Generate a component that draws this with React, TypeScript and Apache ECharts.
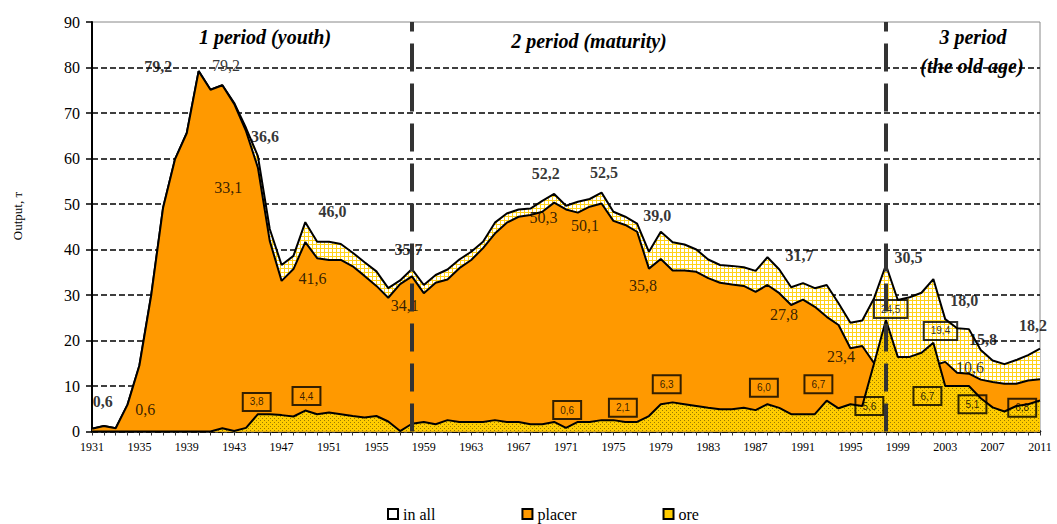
import React, { useEffect, useRef } from 'react';
import * as echarts from 'echarts';

const years: string[] = Array.from({ length: 81 }, (_, i) => String(1931 + i));

const inAll = [
  0.6, 1.2, 0.7, 5.9, 14.5, 30.0, 49.2, 59.8, 65.6, 79.2,
  75.1, 76.1, 72.2, 66.7, 60.5, 44.5, 36.6, 38.6, 46.0, 41.7,
  41.7, 41.2, 39.3, 37.2, 35.2, 31.5, 33.2, 35.7, 32.2, 34.4,
  35.6, 37.8, 39.5, 41.7, 45.9, 47.9, 48.8, 49.0, 50.7, 52.2,
  49.6, 50.5, 51.1, 52.5, 48.3, 47.2, 45.7, 39.5, 43.9, 41.6,
  41.1, 40.0, 37.8, 36.6, 36.4, 36.1, 35.3, 38.3, 35.6, 31.7,
  32.6, 31.5, 32.2, 28.2, 23.9, 24.4, 29.3, 36.6, 28.9, 29.5,
  30.5, 33.5, 24.7, 22.7, 22.5, 17.9, 15.6, 14.8, 15.7, 16.8,
  18.2,
];

const placer = [
  0.6, 1.2, 0.7, 5.9, 14.5, 30.0, 49.2, 59.8, 65.6, 79.2,
  75.1, 76.1, 72.0, 66.0, 58.0, 41.9, 33.1, 35.7, 41.6, 38.1,
  37.7, 37.7, 36.3, 34.2, 32.0, 29.4, 32.4, 34.1, 30.4, 32.7,
  33.4, 35.9, 37.7, 40.3, 43.5, 45.9, 47.2, 47.6, 48.3, 50.3,
  48.8, 48.1, 49.4, 50.1, 46.3, 45.4, 43.9, 35.8, 37.9, 35.4,
  35.4, 35.1, 33.7, 32.7, 32.3, 32.0, 30.7, 32.2, 30.4, 27.8,
  29.0, 27.4, 25.2, 23.4, 18.3, 18.8, 15.0, 11.9, 12.5, 13.1,
  13.1, 14.5, 15.3, 12.9, 12.7, 11.4, 10.9, 10.5, 10.5, 11.2,
  11.5,
];

const ore = [
  0, 0, 0, 0, 0, 0, 0, 0, 0, 0,
  0, 0.7, 0.1, 0.8, 3.8, 3.8, 3.6, 3.3, 4.6, 3.8,
  4.2, 3.8, 3.4, 3.1, 3.4, 2.2, 0.1, 1.7, 2.1, 1.6,
  2.5, 2.1, 2.1, 2.1, 2.5, 2.1, 2.1, 1.6, 1.6, 2.1,
  0.8, 2.1, 2.1, 2.5, 2.5, 2.1, 2.1, 3.4, 6.0, 6.4,
  6.0, 5.6, 5.2, 4.9, 4.9, 5.2, 4.7, 6.0, 5.2, 3.8,
  3.8, 3.8, 6.8, 5.1, 6.0, 5.6, 15.0, 24.5, 16.4, 16.4,
  17.3, 19.5, 10.0, 10.0, 10.0, 7.3, 5.3, 4.4, 5.6, 6.0,
  6.8,
];

const periodLines = ['1958', '1998'];

// annotation texts anchored in data space: [text, year, value]
const totalLabels: [string, number, number][] = [
  ['0,6', 1931.9, 6.5], ['79,2', 1936.6, 80.3], ['36,6', 1945.6, 64.8],
  ['46,0', 1951.3, 48.4], ['35,7', 1957.7, 40.0], ['52,2', 1969.3, 56.6],
  ['52,5', 1974.2, 56.9], ['39,0', 1978.7, 47.5], ['31,7', 1990.7, 38.6],
  ['30,5', 1999.9, 38.2], ['18,0', 2004.6, 28.7], ['15,8', 2006.2, 20.2],
  ['18,2', 2010.4, 23.3],
];
const placerLabels: [string, number, number][] = [
  ['0,6', 1935.5, 4.8], ['79,2', 1942.3, 80.5], ['33,1', 1942.5, 53.6],
  ['41,6', 1949.6, 33.7], ['34,1', 1957.4, 27.6], ['50,3', 1969.1, 47.0],
  ['50,1', 1972.6, 45.3], ['35,8', 1977.5, 32.1], ['27,8', 1989.4, 25.7],
  ['23,4', 1994.2, 16.4], ['10,6', 2005.1, 14.1], ['11,4', 2011.5, 15.2],
];
const oreLabels: [string, number, number][] = [
  ['3,8', 1944.9, 6.5], ['4,4', 1949.1, 7.8], ['0,6', 1971.1, 4.7],
  ['2,1', 1975.8, 5.2], ['6,3', 1979.5, 10.4], ['6,0', 1987.7, 9.6],
  ['6,7', 1992.3, 10.4], ['5,6', 1996.6, 5.6], ['6,7', 2001.5, 7.8],
  ['5,1', 2005.3, 6.0], ['6,8', 2009.5, 5.2], ['24,5', 1998.4, 26.9],
  ['19,4', 2002.6, 22.1],
];

const SERIF = 'Liberation Serif';
const SANS = 'Liberation Sans';

function gridPattern() {
  const c = document.createElement('canvas');
  c.width = 4; c.height = 4;
  const g = c.getContext('2d')!;
  g.fillStyle = '#ffffff'; g.fillRect(0, 0, 4, 4);
  g.fillStyle = '#FFD21A';
  g.fillRect(0, 0, 4, 1); g.fillRect(0, 0, 1, 4);
  return { image: c, repeat: 'repeat', imageWidth: 4, imageHeight: 4 };
}
function dotPattern() {
  const c = document.createElement('canvas');
  c.width = 4; c.height = 4;
  const g = c.getContext('2d')!;
  g.fillStyle = '#FFCC00'; g.fillRect(0, 0, 4, 4);
  g.fillStyle = '#9a7a00';
  g.fillRect(0, 0, 1, 1); g.fillRect(2, 2, 1, 1);
  return { image: c, repeat: 'repeat', imageWidth: 4, imageHeight: 4 };
}

function labelSeries(name: string, items: [string, number, number][], label: any) {
  return {
    name, type: 'scatter', xAxisIndex: 1, yAxisIndex: 0, z: 6, silent: true,
    symbolSize: 1, itemStyle: { color: 'rgba(0,0,0,0)' },
    data: items.map(([t, x, y]) => ({ name: t, value: [x, y] })),
    label: { show: true, position: 'inside', formatter: (p: any) => p.name, ...label },
    emphasis: { disabled: true },
  };
}

export default function App() {
  const ref = useRef<HTMLDivElement>(null);
  useEffect(() => {
    if (!ref.current) return;
    const chart = echarts.init(ref.current, undefined, { renderer: 'svg' });
    const option: any = {
      animation: false,
      backgroundColor: '#ffffff',
      grid: { left: 92, right: 17, top: 22, bottom: 92.5, show: true, borderColor: '#888', borderWidth: 1 },
      legend: {
        left: 382, top: 501, itemWidth: 10, itemHeight: 10, itemGap: 86, selectedMode: false,
        textStyle: { fontFamily: SERIF, fontSize: 16, color: '#000' },
        data: [
          { name: 'in all', icon: 'rect', itemStyle: { color: '#ffffff', borderColor: '#000', borderWidth: 2 } },
          { name: 'placer', icon: 'rect', itemStyle: { color: '#FF9900', borderColor: '#000', borderWidth: 2 } },
          { name: 'ore', icon: 'rect', itemStyle: { color: '#FFCC00', borderColor: '#000', borderWidth: 2 } },
        ],
      },
      xAxis: [
        {
          type: 'category', data: years, boundaryGap: false,
          axisLine: { lineStyle: { color: '#000', width: 2.5 } },
          axisTick: { show: true, interval: 0, length: 4, lineStyle: { color: '#333' } },
          axisLabel: { interval: 3, fontFamily: SERIF, fontSize: 12, color: '#000', margin: 9 },
          splitLine: { show: false },
        },
        { type: 'value', min: 1931, max: 2011, show: false },
      ],
      yAxis: {
        type: 'value', min: 0, max: 90, interval: 10,
        axisLine: { show: true, lineStyle: { color: '#000', width: 2 } },
        axisTick: { show: true, length: 6, lineStyle: { color: '#000', width: 1.5 } },
        axisLabel: { fontFamily: SERIF, fontSize: 16, color: '#000', margin: 12 },
        splitLine: { show: true, showMaxLine: false, lineStyle: { color: '#000', width: 1.5, type: [6, 3] } },
      },
      graphic: [
        { type: 'text', x: 265, y: 37, z: 10, style: { text: '1 period (youth)', font: 'italic bold 20px "Liberation Serif"', fill: '#000', textAlign: 'center', textVerticalAlign: 'middle' } },
        { type: 'text', x: 589, y: 41, z: 10, style: { text: '2 period (maturity)', font: 'italic bold 20px "Liberation Serif"', fill: '#000', textAlign: 'center', textVerticalAlign: 'middle' } },
        { type: 'text', x: 973, y: 37, z: 10, style: { text: '3 period', font: 'italic bold 20px "Liberation Serif"', fill: '#000', textAlign: 'center', textVerticalAlign: 'middle' } },
        { type: 'text', x: 972, y: 66, z: 10, style: { text: '(the old age)', font: 'italic bold 20px "Liberation Serif"', fill: '#000', textAlign: 'center', textVerticalAlign: 'middle' } },
        { type: 'text', x: 17, y: 216, rotation: Math.PI / 2, style: { text: 'Output, т', font: '13px "Liberation Serif"', fill: '#000', textAlign: 'center', textVerticalAlign: 'middle' } },
      ],
      series: [
        {
          name: 'in all', type: 'line', data: inAll, symbol: 'none', silent: true, z: 1,
          itemStyle: { color: '#ffffff' },
          lineStyle: { color: '#000', width: 2 },
          areaStyle: { color: gridPattern(), opacity: 1 },
        },
        {
          name: 'placer', type: 'line', data: placer, symbol: 'none', silent: true, z: 2,
          itemStyle: { color: '#FF9900' },
          lineStyle: { color: '#000', width: 2 },
          areaStyle: { color: '#FF9900', opacity: 1 },
        },
        {
          name: 'ore', type: 'line', data: ore, symbol: 'none', silent: true, z: 3,
          itemStyle: { color: '#FFCC00' },
          lineStyle: { color: '#000', width: 2 },
          areaStyle: { color: dotPattern(), opacity: 1 },
          markLine: {
            silent: true, symbol: 'none', label: { show: false }, z: 8,
            lineStyle: { color: '#333', width: 4, type: [28, 12] },
            data: periodLines.map((y) => ({ xAxis: y })),
          },
        },
        labelSeries('lbl-total', totalLabels, { fontFamily: SERIF, fontSize: 16, fontWeight: 'bold', color: '#000' }),
        labelSeries('lbl-placer', placerLabels, { fontFamily: SERIF, fontSize: 16, color: '#000' }),
        labelSeries('lbl-ore', oreLabels, {
          fontFamily: SANS, fontSize: 10, color: '#000', lineHeight: 12,
          borderColor: '#000', borderWidth: 2, padding: [3, 7],
        }),
      ],
    };
    chart.setOption(option);
    return () => chart.dispose();
  }, []);
  return (
    <div
      ref={ref}
      style={{ position: 'absolute', left: 0, top: 0, width: 1057, height: 524 }}
    />
  );
}
